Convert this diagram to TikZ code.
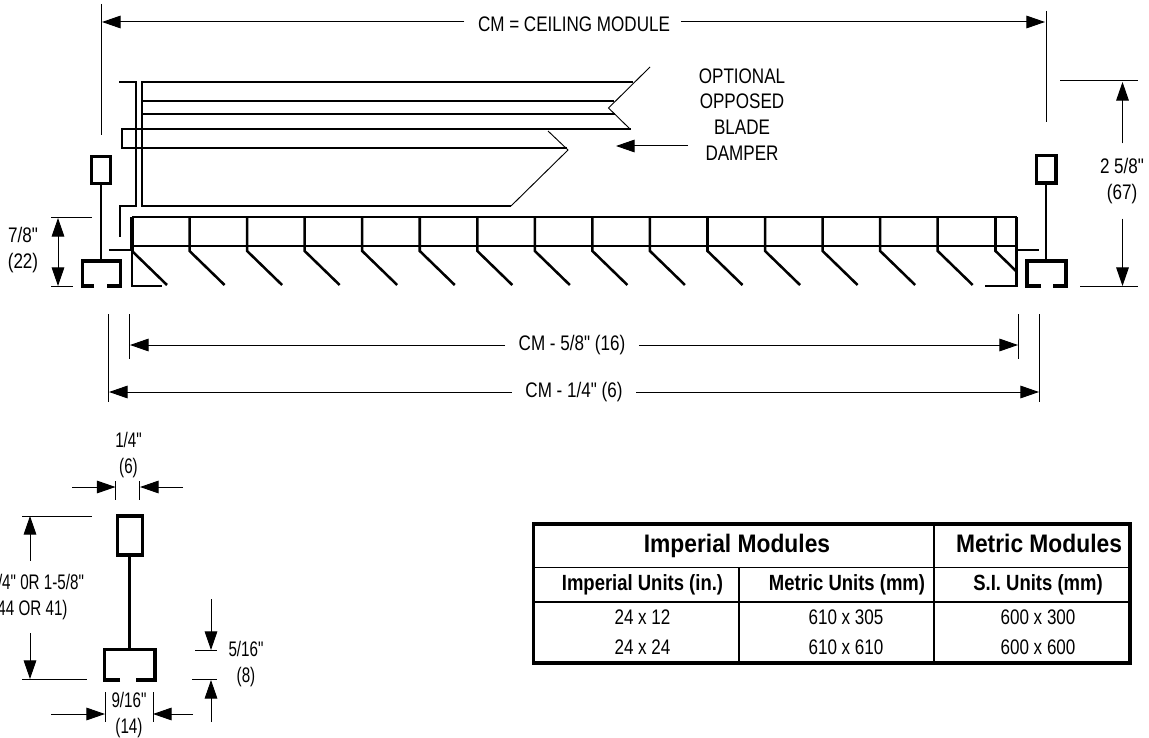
\documentclass[tikz,border=0pt]{standalone}
\usepackage{fontspec}
\setmainfont{Liberation Sans}[FakeStretch=0.81,Ligatures=TeXOff]
\newfontfamily\headfont{Liberation Sans}[FakeStretch=0.9]
\newfontfamily\unitfont{Liberation Sans}[FakeStretch=0.84]
\usetikzlibrary{arrows.meta}
\tikzset{
    dimlabel/.style={inner sep=0pt,align=center,font=\fontsize{15.8pt}{19.3pt}\selectfont},
    detaillabel/.style={dimlabel,xscale=0.89},
    headlabel/.style={inner sep=0pt,text height=13.5pt,text depth=4pt,font=\headfont\bfseries\fontsize{19pt}{22pt}\selectfont},
    unitlabel/.style={inner sep=0pt,text height=12pt,text depth=3.5pt,font=\unitfont\bfseries\fontsize{16.5pt}{19pt}\selectfont},
    dimarrow/.style={-{Triangle[length=14pt,width=9.5pt]},line width=0.75pt},
    dimboth/.style={{Triangle[length=14pt,width=9.5pt]}-{Triangle[length=14pt,width=9.5pt]},line width=0.75pt},
    extline/.style={line width=0.75pt},
    profile/.style={line width=2.5pt},
    slat/.style={line width=1.9pt},
    damper/.style={line width=1.5pt},
    breakline/.style={line width=0.7pt},
    tablerule/.style={line width=0.8pt},
    tableframe/.style={line width=2.4pt}
}
\begin{document}
\begin{tikzpicture}[x=0.75pt,y=0.75pt,yscale=-1,xscale=1]
    \useasboundingbox (0,0) rectangle (1149,738);

    % Tips of the dimension arrows
    \coordinate (cmL) at (102,22);
    \coordinate (cmR) at (1045,22);
    \coordinate (innerL) at (130,345);
    \coordinate (innerR) at (1018,345);
    \coordinate (outerL) at (109,392);
    \coordinate (outerR) at (1039,392);
    \coordinate (sevenT) at (58,218);
    \coordinate (sevenB) at (58,286);
    \coordinate (tallT) at (1122.5,82);
    \coordinate (tallB) at (1122.5,286);
    \coordinate (damperTip) at (616,146);
    \coordinate (damperEnd) at (688,146);
    \coordinate (teeL) at (115.5,487);
    \coordinate (teeLend) at (72,487);
    \coordinate (teeR) at (140,487);
    \coordinate (teeRend) at (183,487);
    \coordinate (teeT) at (30,516);
    \coordinate (teeB) at (30,679);
    \coordinate (lipT) at (211,650);
    \coordinate (lipTend) at (211,599);
    \coordinate (lipB) at (211,680);
    \coordinate (lipBend) at (211,722);
    \coordinate (chanL) at (105,714);
    \coordinate (chanLend) at (51,714);
    \coordinate (chanR) at (153,714);
    \coordinate (chanRend) at (193,714);

    % Text Node
    \node [dimlabel] (cmlabel) at (574,24) {CM = CEILING MODULE};
    \node [dimlabel] (damperlabel) at (742,114.5) {OPTIONAL\\OPPOSED\\BLADE\\DAMPER};
    \node [dimlabel] (sevenlabel) at (23,250) {7/8"\\(22)};
    \node [dimlabel] (talllabel) at (1122,181) {2 5/8"\\(67)};
    \node [dimlabel] (innerlabel) at (572,345.5) {CM - 5/8" (16)};
    \node [dimlabel] (outerlabel) at (574,392.5) {CM - 1/4" (6)};
    \node [detaillabel] (teewlabel) at (128.5,455) {1/4"\\(6)};
    \node [detaillabel] (teehlabel) at (30,597) {1-3/4" 0R 1-5/8"\\(44 OR 41)};
    \node [detaillabel] (liplabel) at (246,664) {5/16"\\(8)};
    \node [detaillabel] (chanlabel) at (129,715) {9/16"\\(14)};

    %Straight Lines: dimensions
    \draw [dimarrow,shorten <=10pt] (cmlabel.west |- cmL) -- (cmL);
    \draw [dimarrow,shorten <=8pt] (cmlabel.east |- cmR) -- (cmR);
    \draw [dimarrow,shorten <=10pt] (innerlabel.west |- innerL) -- (innerL);
    \draw [dimarrow,shorten <=10pt] (innerlabel.east |- innerR) -- (innerR);
    \draw [dimarrow,shorten <=10pt] (outerlabel.west |- outerL) -- (outerL);
    \draw [dimarrow,shorten <=10pt] (outerlabel.east |- outerR) -- (outerR);
    \draw [dimboth] (sevenT) -- (sevenB);
    \draw [dimarrow,shorten <=11pt] (talllabel.north -| tallT) -- (tallT);
    \draw [dimarrow,shorten <=11pt] (talllabel.south -| tallB) -- (tallB);
    \draw [dimarrow] (damperEnd) -- (damperTip);
    \draw [dimarrow] (teeLend) -- (teeL);
    \draw [dimarrow] (teeRend) -- (teeR);
    \draw [dimarrow,shorten <=10pt] (teehlabel.north -| teeT) -- (teeT);
    \draw [dimarrow,shorten <=10pt] (teehlabel.south -| teeB) -- (teeB);
    \draw [dimarrow] (lipTend) -- (lipT);
    \draw [dimarrow] (lipBend) -- (lipB);
    \draw [dimarrow] (chanLend) -- (chanL);
    \draw [dimarrow] (chanRend) -- (chanR);

    %Straight Lines: extension lines
    \draw [extline] (101.5,4) -- (101.5,135);
    \draw [extline] (1046,11) -- (1046,122);
    \draw [extline] (51,217.5) -- (92,217.5);
    \draw [extline] (51,286) -- (73,286);
    \draw [extline] (1060,81) -- (1138,81);
    \draw [extline] (1080,286) -- (1138,286);
    \draw [extline] (129,314) -- (129,359);
    \draw [extline] (1018,314) -- (1018,359);
    \draw [extline] (108,314) -- (108,402);
    \draw [extline] (1039,314) -- (1039,402);
    \draw [extline] (115.7,481) -- (115.7,500);
    \draw [extline] (139.5,481) -- (139.5,500);
    \draw [extline] (22,516) -- (92,516);
    \draw [extline] (22,679) -- (87,679);
    \draw [extline] (195,650) -- (217,650);
    \draw [extline] (192,679) -- (217,679);
    \draw [extline] (105,692) -- (105,722);
    \draw [extline] (153,692) -- (153,722);

    %Shape: damper
    \draw [damper] (119,82) -- (135.5,82) -- (135.5,206) -- (120,206) -- (120,237);
    \draw [damper] (633,82) -- (142,82) -- (142,206) -- (511,206);
    \draw [damper] (142,101) -- (614,101);
    \draw [damper] (142,114) -- (615,114);
    \draw [damper] (631,129) -- (122,129) -- (122,148) -- (567,148);
    \draw [breakline] (650,67) -- (608.5,108) -- (630,129);
    \draw [breakline] (548,131) -- (568,150) -- (511,206);

    %Shape: grille
    \draw [damper] (132,217) -- (1016.5,217);
    \draw [damper] (132,246) -- (1016.5,246);
    \draw [profile] (132,217) -- (132,251);
    \draw [slat] (132,251) -- (132,286) -- (162,286);
    \draw [slat] (132,251) -- (167,285);
    \draw [slat] (109,250) -- (132,250);
    \foreach \k in {1,...,14} {
        \pgfmathsetmacro{\slatx}{132+57.55*\k}
        \draw [slat] (\slatx,217) -- (\slatx,251) -- ({\slatx+35},285);
    }
    \draw [slat] (995.5,217) -- (995.5,251) -- (1016,271);
    \draw [slat] (985,286) -- (1016.5,286) -- (1016.5,217);
    \draw [slat] (1016.5,250) -- (1039,250);

    %Shape: left tee
    \draw [profile] (91.5,156.5) rectangle (110.5,183.5);
    \draw [slat] (101,184) -- (101,260);
    \draw [profile] (94,286) -- (82.5,286) -- (82.5,261) -- (120.5,261) -- (120.5,286) -- (107,286);

    %Shape: right tee
    \draw [profile] (1036.5,155.5) rectangle (1056,183);
    \draw [slat] (1046,184) -- (1046,260);
    \draw [profile] (1041,286) -- (1027,286) -- (1027,261) -- (1066,261) -- (1066,286) -- (1053,286);

    %Shape: detail tee
    \draw [profile] (117.5,516) rectangle (142.5,555);
    \draw [profile] (129.5,555) -- (129.5,649);
    \draw [profile] (120,680) -- (104.5,680) -- (104.5,649.5) -- (155,649.5) -- (155,680) -- (136,680);

    %Shape: table
    \draw [tablerule] (533.5,567.7) -- (1130,567.7);
    \draw [tablerule] (533.5,602) -- (1130,602);
    \draw [tablerule] (739,567.7) -- (739,663);
    \draw [tablerule] (934,524) -- (934,663);
    \draw [tableframe] (533.5,524) rectangle (1130,663);

    % Text Node
    \node [headlabel] (imperialhead) at (737,546) {Imperial Modules};
    \node [headlabel] (metrichead) at (1039,546) {Metric Modules};
    \node [unitlabel] (imperialunits) at (642.5,585) {Imperial Units (in.)};
    \node [unitlabel] (metricunits) at (847,585) {Metric Units (mm)};
    \node [unitlabel] (siunits) at (1038,585) {S.I. Units (mm)};
    \node [dimlabel] (rowAa) at (642.5,617) {24 x 12};
    \node [dimlabel] (rowAb) at (846,617) {610 x 305};
    \node [dimlabel] (rowAc) at (1038,617) {600 x 300};
    \node [dimlabel] (rowBa) at (642.5,647) {24 x 24};
    \node [dimlabel] (rowBb) at (846,647) {610 x 610};
    \node [dimlabel] (rowBc) at (1038,647) {600 x 600};
\end{tikzpicture}
\end{document}
